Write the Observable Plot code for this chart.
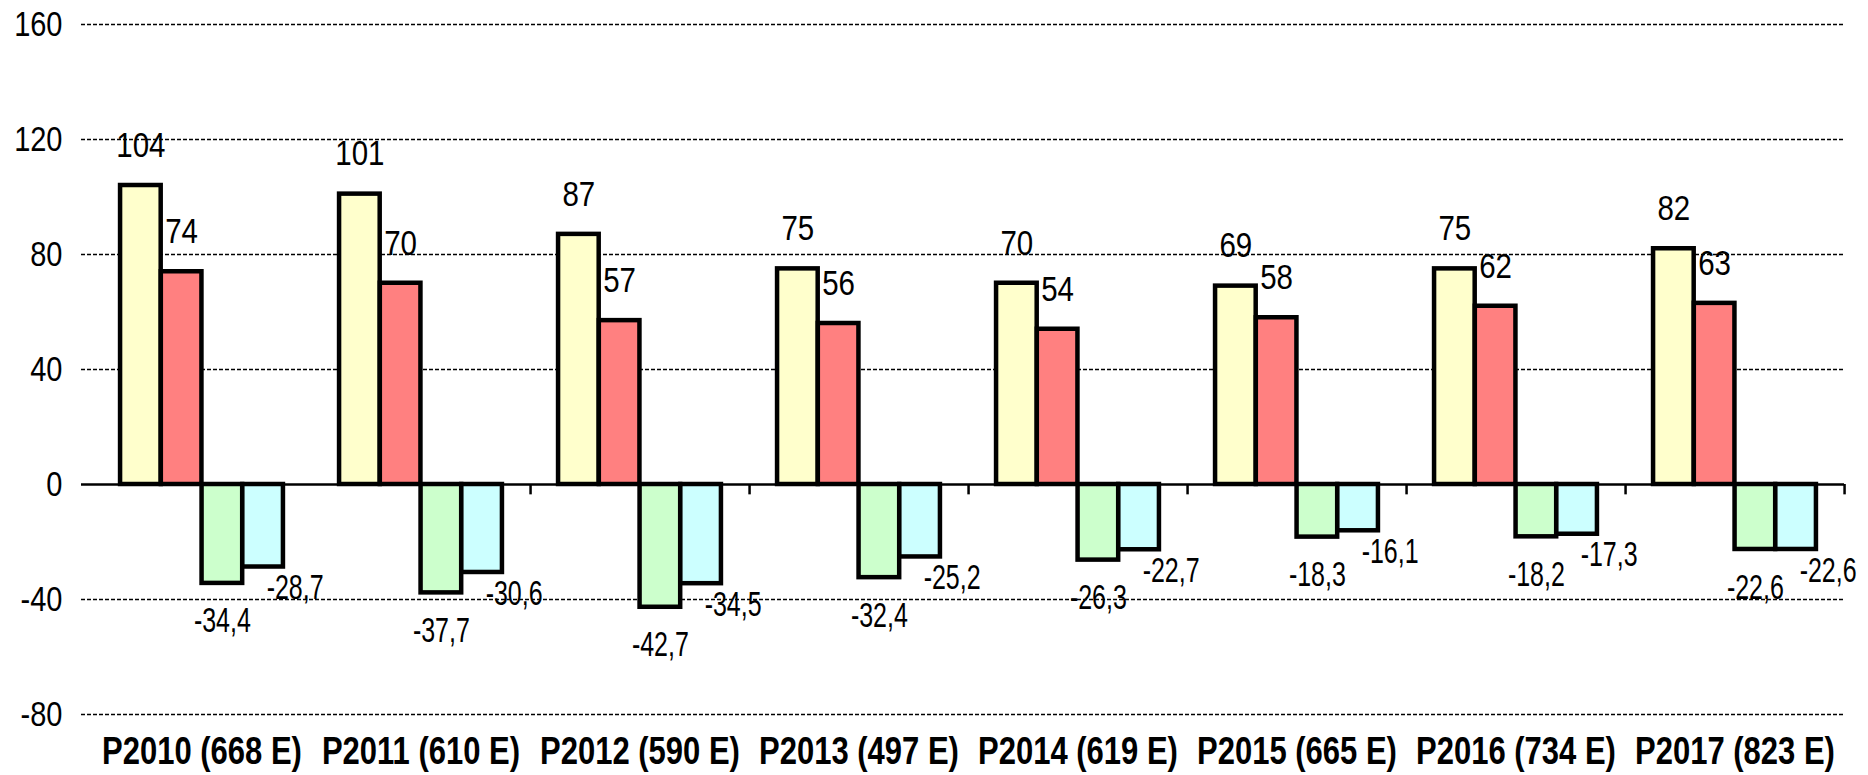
<!DOCTYPE html>
<html>
<head>
<meta charset="utf-8">
<script src="https://cdn.jsdelivr.net/npm/d3@7"></script>
<script src="https://cdn.jsdelivr.net/npm/@observablehq/plot@0.6"></script>
<style>
  html, body { margin: 0; padding: 0; background: #ffffff; }
  #chart svg { display: block; }
</style>
</head>
<body>
<div id="chart"></div>
<script>
// ---- data ----
const categories = ["P2010 (668 E)", "P2011 (610 E)", "P2012 (590 E)", "P2013 (497 E)",
                    "P2014 (619 E)", "P2015 (665 E)", "P2016 (734 E)", "P2017 (823 E)"];
const seriesA = [104, 101, 87, 75, 70, 69, 75, 82];
const seriesB = [74, 70, 57, 56, 54, 58, 62, 63];
const seriesC = [-34.4, -37.7, -42.7, -32.4, -26.3, -18.3, -18.2, -22.6];
const seriesD = [-28.7, -30.6, -34.5, -25.2, -22.7, -16.1, -17.3, -22.6];
const yTicks = [-80, -40, 0, 40, 80, 120, 160];
const seriesColors = ["#FFFFCC", "#FF8080", "#CCFFCC", "#CCFFFF"];

// ---- fonts ----
const fam = "'Liberation Sans', Arial, sans-serif";
const fsTick = 29, fsPos = 29.5, fsNeg = 25, fsCat = 31;
// vertical stretch of glyphs (the reference text is drawn taller than wide)
const stretch = {[fsTick]: 1.2, [fsPos]: 1.2, [fsNeg]: 1.38, [fsCat]: 1.26};

// ---- layout ----
const W = 1868, H = 775;
const mL = 91, mR = 24, mT = 24, mB = 61;
const step = (W - mL - mR) / categories.length;
const barW = 40.75;
const pad = (step - 4 * barW) / 2;
const insets = i => ({insetLeft: pad + i * barW, insetRight: step - pad - (i + 1) * barW});
const centerOff = i => pad + (i + 0.5) * barW - step / 2;

const allSeries = [seriesA, seriesB, seriesC, seriesD];
const tables = allSeries.map(s => categories.map((c, j) => ({category: c, value: s[j]})));

const fmtInt = v => String(Math.round(v));
const fmtDec = v => v.toFixed(1).replace(".", ",");

const marks = [];
// dashed grid lines
marks.push(Plot.ruleY(yTicks.filter(t => t !== 0), {
  y: d => d, stroke: "#000", strokeWidth: 1.3, strokeDasharray: "4,2", insetLeft: -10
}));
// bars
tables.forEach((t, i) => {
  marks.push(Plot.barY(t, {
    x: "category", y: "value", fill: seriesColors[i],
    stroke: "#000", strokeWidth: 4.5, ...insets(i)
  }));
});
// zero line
marks.push(Plot.ruleY([0], {stroke: "#000", strokeWidth: 2.5, insetLeft: -10}));
// category boundary ticks below zero line
marks.push(Plot.ruleX(categories.slice(1), {
  x: d => d, dx: step / 2, y1: 0, y2: -3.6, stroke: "#000", strokeWidth: 2.5
}));
// value labels
marks.push(Plot.text(tables[0], {x: "category", y: "value", text: d => fmtInt(d.value),
  dx: centerOff(0), dy: -40, fontSize: fsPos, fill: "#000"}));
marks.push(Plot.text(tables[1], {x: "category", y: "value", text: d => fmtInt(d.value),
  dx: centerOff(1), dy: -40, fontSize: fsPos, fill: "#000"}));
marks.push(Plot.text(tables[2], {x: "category", y: "value", text: d => fmtDec(d.value),
  dx: centerOff(2), dy: 38, fontSize: fsNeg, fill: "#000"}));
marks.push(Plot.text(tables[3], {x: "category", y: "value", text: d => fmtDec(d.value),
  dx: centerOff(3) + 32, dy: 21, fontSize: fsNeg, fill: "#000"}));
// y tick labels
marks.push(Plot.text(yTicks, {y: d => d, text: d => String(d), frameAnchor: "left",
  textAnchor: "end", dx: -29, dy: 0, fontSize: fsTick, fill: "#000"}));
// category labels
marks.push(Plot.text(categories, {x: d => d, text: d => d, frameAnchor: "bottom",
  dy: 49, fontSize: fsCat, fontWeight: "bold", fill: "#000"}));

const chart = Plot.plot({
  width: W, height: H,
  marginLeft: mL, marginRight: mR, marginTop: mT, marginBottom: mB,
  style: {fontFamily: fam, background: "#ffffff", color: "#000", overflow: "visible"},
  x: {domain: categories, padding: 0, axis: null},
  y: {domain: [-80, 160], axis: null},
  marks
});

// stretch glyphs vertically around each label's own anchor point
chart.querySelectorAll("text").forEach(t => {
  const g = t.closest("[font-size]");
  const fs = g ? parseFloat(g.getAttribute("font-size")) : NaN;
  const sy = stretch[fs];
  if (!sy) return;
  let tr = t.getAttribute("transform") || "";
  const x = t.getAttribute("x"), y = t.getAttribute("y");
  const isPx = v => v !== null && /^-?[\d.]+$/.test(v.trim());
  let tx = 0, ty = 0;
  if (isPx(x)) { tx = +x; t.removeAttribute("x"); }
  if (isPx(y)) { ty = +y; t.removeAttribute("y"); }
  if (tx || ty) tr += ` translate(${tx},${ty})`;
  t.setAttribute("transform", `${tr} scale(1,${sy})`.trim());
});

document.getElementById("chart").appendChild(chart);
</script>
</body>
</html>
